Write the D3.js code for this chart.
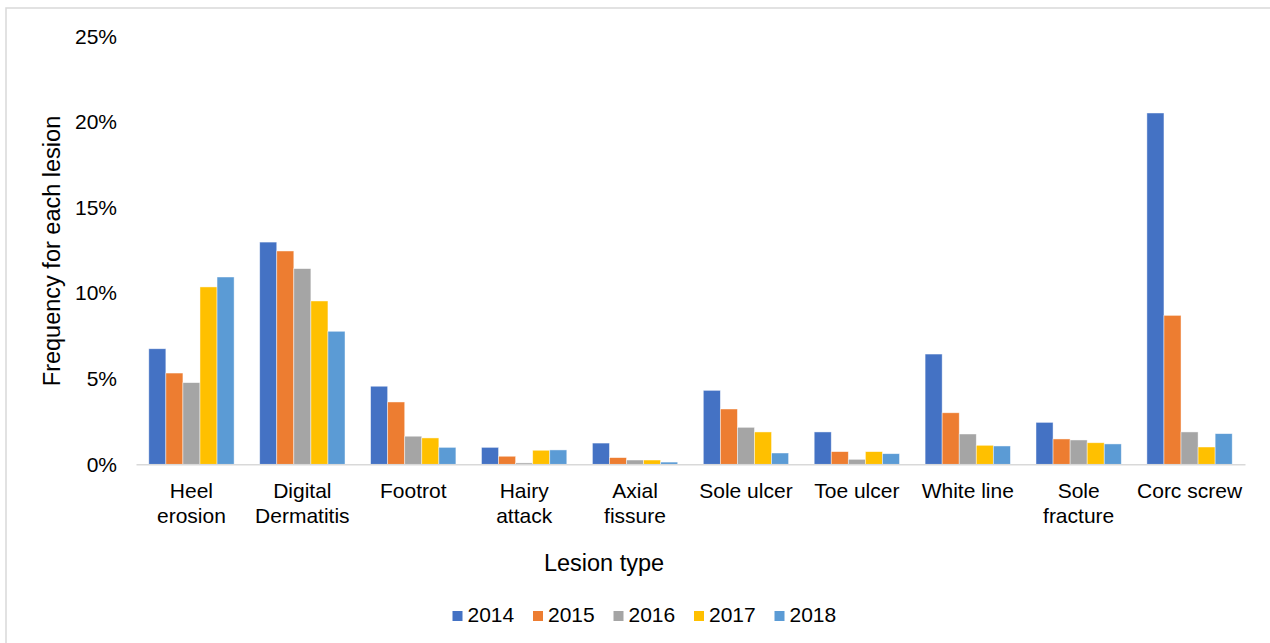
<!DOCTYPE html>
<html>
<head>
<meta charset="utf-8">
<script src="https://cdn.jsdelivr.net/npm/d3@7"></script>
<style>
  html, body { margin: 0; padding: 0; background: #fff; }
  svg { display: block; font-family: "Liberation Sans", Arial, sans-serif; }
</style>
</head>
<body>
<svg id="chart" width="1270" height="643"></svg>
<script>
// Lesion categories along the x axis
const categories = ["Heel erosion", "Digital Dermatitis", "Footrot", "Hairy attack", "Axial fissure",
                    "Sole ulcer", "Toe ulcer", "White line", "Sole fracture", "Corc screw"];
const years = ["2014", "2015", "2016", "2017", "2018"];

// Frequency (%) of each lesion per year
const v2014 = [6.75, 12.98, 4.56, 0.99, 1.24, 4.32, 1.89, 6.44, 2.45, 20.52];
const v2015 = [5.33, 12.46, 3.64, 0.47, 0.39, 3.23, 0.74, 3.01, 1.48, 8.70];
const v2016 = [4.77, 11.43, 1.64, 0.08, 0.25, 2.16, 0.29, 1.77, 1.42, 1.89];
const v2017 = [10.36, 9.54, 1.54, 0.82, 0.25, 1.89, 0.74, 1.11, 1.26, 1.01];
const v2018 = [10.94, 7.77, 0.99, 0.84, 0.13, 0.66, 0.62, 1.07, 1.19, 1.79];
const seriesValues = [v2014, v2015, v2016, v2017, v2018];
const colors = ["#4472C4", "#ED7D31", "#A5A5A5", "#FFC000", "#5B9BD5"];

const yTicks = [0, 5, 10, 15, 20, 25];
const yTickLabels = ["0%", "5%", "10%", "15%", "20%", "25%"];

const svg = d3.select("#chart");
const FONT = 21;
const TITLE_FONT = 23.5;

// outer chart frame
svg.append("rect")
  .attr("x", 6).attr("y", 8).attr("width", 1290).attr("height", 660)
  .attr("fill", "none").attr("stroke", "#d9d9d9").attr("stroke-width", 1.5);

const plotLeft = 136, plotRight = 1245, plotTop = 36.3, plotBottom = 464.3;

const x0 = d3.scaleBand()
  .domain(categories)
  .range([plotLeft, plotRight])
  .paddingInner(1.5 / 6.5)
  .paddingOuter(0.75 / 6.5);

const x1 = d3.scaleBand()
  .domain(years)
  .range([0, x0.bandwidth()]);

const y = d3.scaleLinear().domain([0, 25]).range([plotBottom, plotTop]);

// bars
const groups = svg.append("g").selectAll("g")
  .data(categories)
  .join("g")
  .attr("transform", d => `translate(${x0(d)},0)`);

groups.selectAll("rect")
  .data((c, i) => years.map((yr, k) => ({ yr, k, v: seriesValues[k][i] })))
  .join("rect")
  .attr("x", d => x1(d.yr))
  .attr("y", d => y(d.v))
  .attr("width", x1.bandwidth())
  .attr("height", d => y(0) - y(d.v))
  .attr("fill", d => colors[d.k])
  .attr("stroke", "#ffffff")
  .attr("stroke-opacity", 0.6)
  .attr("stroke-width", 0.75);

// y axis (labels only)
const yAxis = svg.append("g")
  .attr("transform", `translate(${plotLeft},0)`)
  .call(d3.axisLeft(y).tickValues(yTicks).tickFormat((d, i) => yTickLabels[i]).tickSize(0).tickPadding(19));
yAxis.select(".domain").remove();
yAxis.selectAll("text")
  .attr("font-size", FONT).attr("fill", "#000").attr("font-family", "Liberation Sans, Arial, sans-serif");

// x axis line
const xAxis = svg.append("g")
  .attr("transform", `translate(0,${plotBottom})`)
  .call(d3.axisBottom(x0).tickSize(0).tickFormat(""));
xAxis.select(".domain").attr("stroke", "#d9d9d9").attr("stroke-width", 1.5);

// category labels, wrapped onto two lines when wider than the band
const labelG = svg.append("g");
categories.forEach(c => {
  const cx = x0(c) + x0.bandwidth() / 2;
  const t = labelG.append("text")
    .attr("x", cx).attr("y", 498)
    .attr("text-anchor", "middle")
    .attr("font-size", FONT).attr("fill", "#000")
    .text(c);
  if (t.node().getComputedTextLength() > 108) {
    const words = c.split(" ");
    t.text(null);
    t.append("tspan").attr("x", cx).attr("y", 498).text(words[0]);
    t.append("tspan").attr("x", cx).attr("y", 523).text(words.slice(1).join(" "));
  }
});

// axis titles
svg.append("text")
  .attr("x", 604).attr("y", 571)
  .attr("text-anchor", "middle")
  .attr("font-size", TITLE_FONT).attr("fill", "#000")
  .text("Lesion type");

svg.append("text")
  .attr("transform", "translate(60,251) rotate(-90)")
  .attr("text-anchor", "middle")
  .attr("font-size", TITLE_FONT).attr("fill", "#000")
  .text("Frequency for each lesion");

// legend
const legend = svg.append("g");
const legendX0 = 452.5, legendStep = 80.5;
years.forEach((yr, k) => {
  const gx = legendX0 + k * legendStep;
  legend.append("rect")
    .attr("x", gx).attr("y", 611).attr("width", 10).attr("height", 10)
    .attr("fill", colors[k]);
  legend.append("text")
    .attr("x", gx + 15).attr("y", 621.7)
    .attr("font-size", FONT).attr("fill", "#000")
    .text(yr);
});
</script>
</body>
</html>
